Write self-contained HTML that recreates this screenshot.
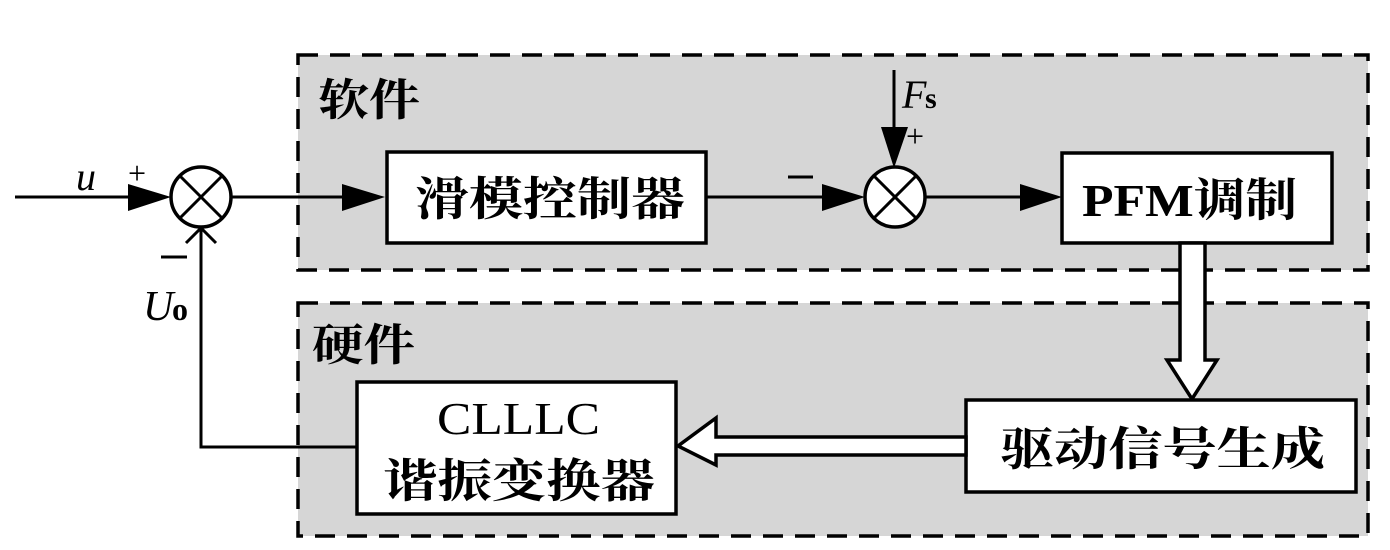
<!DOCTYPE html>
<html><head><meta charset="utf-8"><style>
html,body{margin:0;padding:0;background:#fff;}
svg{display:block;}
.cn{font-family:"Liberation Serif","Noto Serif CJK SC",serif;font-weight:bold;fill:#000;}
.it{font-family:"Liberation Serif",serif;font-style:italic;fill:#000;}
.rm{font-family:"Liberation Serif",serif;fill:#000;}
</style></head><body>
<svg width="1390" height="550" viewBox="0 0 1390 550" xmlns="http://www.w3.org/2000/svg">
<rect x="298" y="55" width="1070" height="215" fill="#d6d6d6" stroke="#000" stroke-width="3.5" stroke-dasharray="20,12"/>
<rect x="298" y="303" width="1070" height="233" fill="#d6d6d6" stroke="#000" stroke-width="3.5" stroke-dasharray="20,12"/>
<text x="318" y="115" class="cn" font-size="44" textLength="102" lengthAdjust="spacingAndGlyphs">软件</text>
<text x="312" y="360" class="cn" font-size="44" textLength="103" lengthAdjust="spacingAndGlyphs">硬件</text>

<line x1="15" y1="197" x2="140" y2="197" stroke="#000" stroke-width="3"/>
<polygon points="128,184 171,197 128,211" fill="#000"/>
<text x="76" y="190" class="it" font-size="40">u</text>
<text x="128" y="184" class="rm" font-size="32">+</text>
<circle cx="201" cy="197" r="30" fill="#fff" stroke="#000" stroke-width="3.5"/>
<line x1="180" y1="176" x2="222" y2="218" stroke="#000" stroke-width="3"/>
<line x1="222" y1="176" x2="180" y2="218" stroke="#000" stroke-width="3"/>
<line x1="231" y1="197" x2="360" y2="197" stroke="#000" stroke-width="3"/>
<polygon points="342,184 385,197 342,211" fill="#000"/>
<polyline points="357,447 201,447 201,228" fill="none" stroke="#000" stroke-width="3"/>
<polyline points="186,243 201,228 216,243" fill="none" stroke="#000" stroke-width="3"/>
<line x1="161" y1="257" x2="187" y2="257" stroke="#000" stroke-width="3"/>
<text x="143" y="320" class="it" font-size="42">U</text>
<text x="172" y="320" class="rm" font-size="32" font-weight="bold">o</text>

<rect x="387" y="152" width="319" height="91" fill="#fff" stroke="#000" stroke-width="3.5"/>
<text x="415" y="215" class="cn" font-size="46" textLength="270" lengthAdjust="spacingAndGlyphs">滑模控制器</text>
<line x1="706" y1="197" x2="840" y2="197" stroke="#000" stroke-width="3"/>
<polygon points="822,184 865,197 822,211" fill="#000"/>
<line x1="788" y1="177" x2="813" y2="177" stroke="#000" stroke-width="3"/>

<circle cx="895" cy="197" r="30" fill="#fff" stroke="#000" stroke-width="3.5"/>
<line x1="874" y1="176" x2="916" y2="218" stroke="#000" stroke-width="3"/>
<line x1="916" y1="176" x2="874" y2="218" stroke="#000" stroke-width="3"/>
<line x1="894" y1="70" x2="894" y2="140" stroke="#000" stroke-width="3"/>
<polygon points="881,127 894,168 908,127" fill="#000"/>
<text x="902" y="108" class="it" font-size="40">F</text>
<text x="925" y="108" class="rm" font-size="30" font-weight="bold">s</text>
<text x="906" y="147" class="rm" font-size="32">+</text>
<line x1="925" y1="197" x2="1035" y2="197" stroke="#000" stroke-width="3"/>
<polygon points="1020,184 1062,197 1020,211" fill="#000"/>

<rect x="1062" y="153" width="270" height="90" fill="#fff" stroke="#000" stroke-width="3.5"/>
<text x="1082" y="216" class="cn" font-size="46" textLength="215" lengthAdjust="spacingAndGlyphs">PFM调制</text>

<polygon points="1180,243 1205,243 1205,360 1217,360 1192,399 1167,360 1180,360" fill="#fff" stroke="#000" stroke-width="3.5"/>

<rect x="966" y="400" width="390" height="92" fill="#fff" stroke="#000" stroke-width="3.5"/>
<text x="1000" y="465" class="cn" font-size="46" textLength="325" lengthAdjust="spacingAndGlyphs">驱动信号生成</text>

<polygon points="966,437 716,437 716,418 678,446 716,465 716,455 966,455" fill="#fff" stroke="#000" stroke-width="3.5"/>

<rect x="357" y="382" width="319" height="132" fill="#fff" stroke="#000" stroke-width="3.5"/>
<text x="437" y="434" class="rm" font-size="46" textLength="163" lengthAdjust="spacingAndGlyphs">CLLLC</text>
<text x="383" y="497" class="cn" font-size="46" textLength="272" lengthAdjust="spacingAndGlyphs">谐振变换器</text>
</svg>
</body></html>
